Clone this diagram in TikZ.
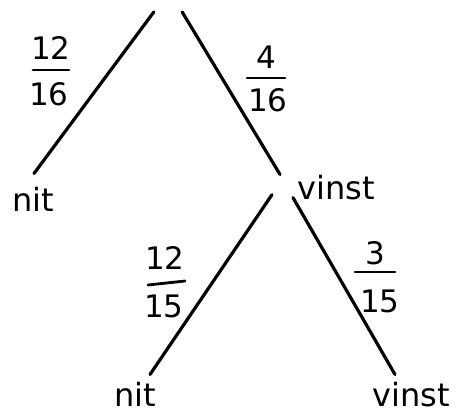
\documentclass[tikz,border=0pt]{standalone}
\usepackage{fontspec}
\setmainfont{DejaVu Sans}
\usetikzlibrary{calc}
\begin{document}
\begin{tikzpicture}[x=1pt,y=-1pt,
  word/.style={font=\fontsize{32}{38}\selectfont, inner sep=0pt, anchor=base},
  digit/.style={font=\fontsize{31}{37}\selectfont, inner sep=0pt},
  edge/.style={line width=3.2pt, line cap=round},
  bar/.style={line width=2.8pt, line cap=round}]
\useasboundingbox (0,0) rectangle (456,416);
% nodes
\node[inner sep=0pt, minimum width=28pt, minimum height=0pt] (root) at (168,12) {};
\node[word] (nit1) at (33,211) {nit};
\node[word] (vinst1) at (336,199) {vinst};
\node[word] (nit2) at (135,406) {nit};
\node[word] (vinst2) at (411,406) {vinst};
% edges
\draw[edge] (root.west) -- ($(nit1.north)+(1,-13)$);
\draw[edge] (root.east) -- ($(vinst1.north)+(-56,0)$);
\draw[edge] ($(vinst1.south)+(-64,-5)$) -- ($(nit2.north)+(15,-7)$);
\draw[edge] ($(vinst1.south)+(-43,-2)$) -- ($(vinst2.north)+(-16,-7)$);
% fractions
\node[digit] (f1n) at (51,47.5) {12};
\node[digit] (f1d) at (49,94) {16};
\draw[bar] ($(f1d.center)+(-16,-24)$) -- ($(f1d.center)+(20,-24)$);
\node[digit] (f2n) at (266,57) {4};
\node[digit] (f2d) at (268,100) {16};
\draw[bar] ($(f2d.center)+(-21,-22)$) -- ($(f2d.center)+(17,-22)$);
\node[digit] (f3n) at (165,258) {12};
\node[digit] (f3d) at (164,306) {15};
\draw[bar] ($(f3d.center)+(-16,-21)$) -- ($(f3d.center)+(21,-25)$);
\node[digit] (f4n) at (375,253) {3};
\node[digit] (f4d) at (380,301) {15};
\draw[bar] ($(f4d.center)+(-25,-29)$) -- ($(f4d.center)+(15,-29)$);
\end{tikzpicture}
\end{document}
